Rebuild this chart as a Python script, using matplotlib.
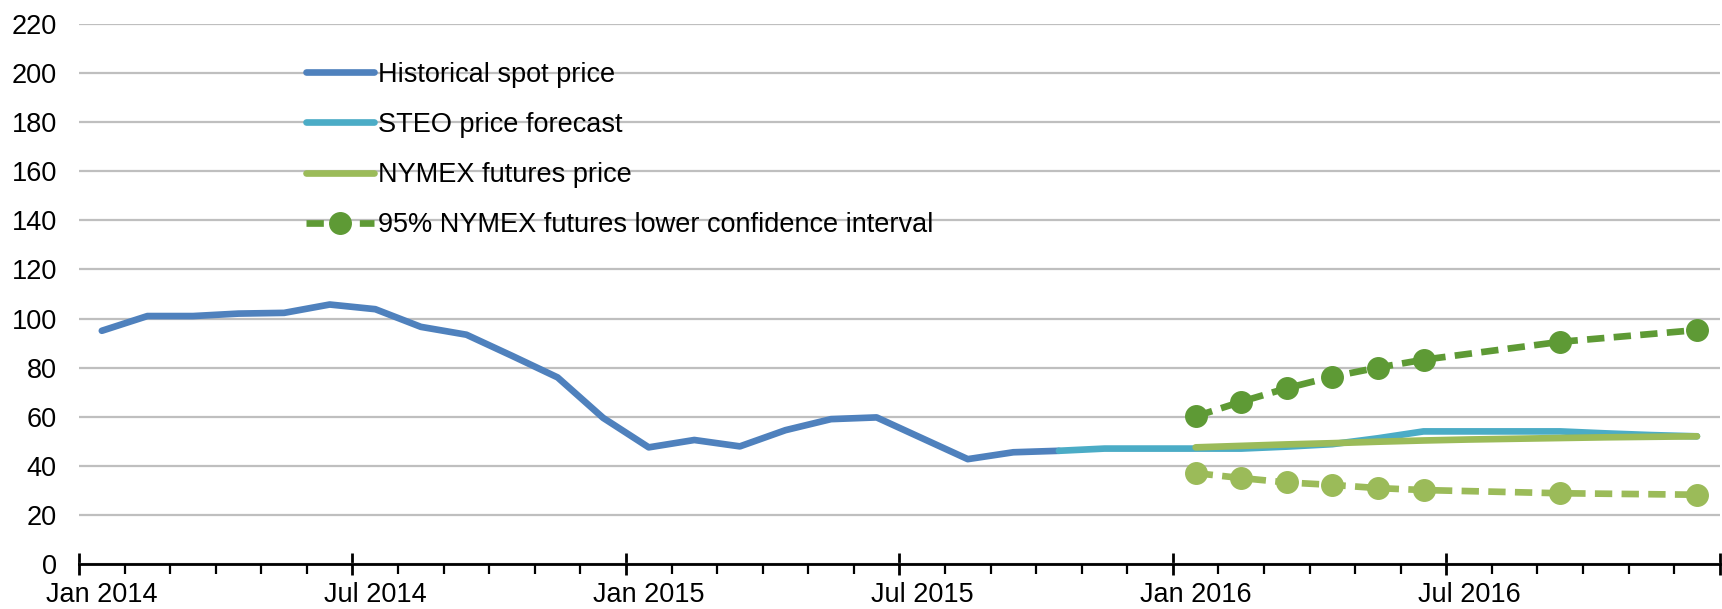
import numpy as np
import matplotlib
matplotlib.use("Agg")
from matplotlib import pyplot as plt

plt.rcParams['font.family'] = ['Liberation Sans', 'DejaVu Sans']

# months Jan 2014 .. Dec 2016
months = ["Jan 2014", "Feb 2014", "Mar 2014", "Apr 2014", "May 2014", "Jun 2014",
          "Jul 2014", "Aug 2014", "Sep 2014", "Oct 2014", "Nov 2014", "Dec 2014",
          "Jan 2015", "Feb 2015", "Mar 2015", "Apr 2015", "May 2015", "Jun 2015",
          "Jul 2015", "Aug 2015", "Sep 2015", "Oct 2015", "Nov 2015", "Dec 2015",
          "Jan 2016", "Feb 2016", "Mar 2016", "Apr 2016", "May 2016", "Jun 2016",
          "Jul 2016", "Aug 2016", "Sep 2016", "Oct 2016", "Nov 2016", "Dec 2016"]

# Jan 2014 - Oct 2015
historical = [95, 101, 101, 102, 102.3, 105.7, 103.8, 96.6, 93.4, 84.8, 76, 59.5,
              47.5, 50.5, 47.9, 54.5, 59, 59.7, 51.2, 42.7, 45.5, 46.1]
# Oct 2015 - Dec 2016
steo = [46.1, 47, 47, 47, 47, 47.8, 48.8, 51.2, 54, 54, 54, 54, 53.2, 52.5, 52]
# Jan 2016 - Dec 2016
nymex = [47.5, 48.1, 48.7, 49.2, 49.8, 50.3, 50.7, 51.0, 51.3, 51.6, 51.8, 52]
upper_ci = [60.1, 66.1, 71.6, 76.3, 80, 83.2, None, None, 90.5, None, None, 95.3]
lower_ci = [37, 35, 33.2, 32.2, 30.9, 30.1, None, None, 28.8, None, None, 28.2]

tick_labels = ["Jan 2014", "Jul 2014", "Jan 2015", "Jul 2015", "Jan 2016", "Jul 2016"]

fs = 19.5
fig = plt.figure(figsize=(17.22, 6.09), dpi=100)
ax = fig.add_axes([0.0459, 0.074, 0.9528, 0.8866])

x = np.arange(len(months)) + 0.5
lw = 4.8

ax.plot(x[:22], historical, color="#4F81BD", lw=lw, solid_capstyle="round",
        label="Historical spot price", zorder=3)
ax.plot(x[21:], steo, color="#4BACC6", lw=lw, solid_capstyle="round",
        label="STEO price forecast", zorder=3)
ax.plot(x[24:], nymex, color="#9BBB59", lw=lw, solid_capstyle="round",
        label="NYMEX futures price", zorder=4)

def ci_plot(vals, color, label):
    v = np.array([np.nan if a is None else a for a in vals], dtype=float)
    xs = x[24:]
    m = ~np.isnan(v)
    ax.plot(xs[m], v[m], color=color, lw=lw, dashes=(2.6, 1.4), marker="o",
            markersize=15.5, label=label, zorder=5)

ci_plot(upper_ci, "#5E9A35", "95% NYMEX futures lower confidence interval")
ci_plot(lower_ci, "#9BBB59", "_nolegend_")

ax.set_xlim(0, 36)
ax.set_ylim(0, 220)
ax.set_yticks(np.arange(0, 221, 20))
ax.yaxis.grid(True, color="#BFBFBF", lw=1.6)
ax.set_axisbelow(True)
ax.tick_params(axis="y", length=0, pad=16, labelsize=fs)

for s in ["left", "right", "top"]:
    ax.spines[s].set_visible(False)
ax.spines["bottom"].set_linewidth(2)

ax.set_xticks(np.arange(0, 37, 6))
ax.set_xticks(np.arange(0, 37, 1), minor=True)
ax.tick_params(axis="x", which="major", direction="inout", length=16, width=2,
               labelbottom=False)
ax.tick_params(axis="x", which="minor", direction="out", length=7, width=1.6)

sec = ax.secondary_xaxis("bottom")
sec.set_xticks([months.index(t) + 0.5 for t in tick_labels], tick_labels)
sec.tick_params(length=0, pad=13, labelsize=fs)
sec.spines["bottom"].set_visible(False)

leg = ax.legend(loc="upper left", bbox_to_anchor=(0.1237, 0.975),
                frameon=False, fontsize=fs, handlelength=2.5, handletextpad=0.15,
                labelspacing=0.89)

fig.savefig("out.png", dpi=100)
